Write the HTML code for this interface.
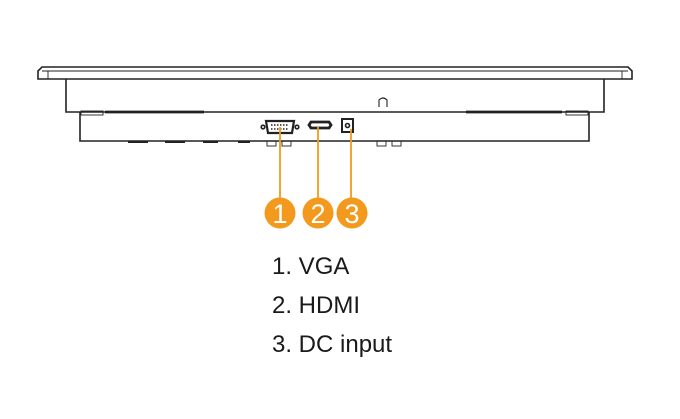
<!DOCTYPE html>
<html><head><style>
body{margin:0;background:#fff;width:680px;height:414px;overflow:hidden}
</style></head><body>
<svg width="680" height="414" viewBox="0 0 680 414" xmlns="http://www.w3.org/2000/svg">
<g fill="none" stroke="#222" stroke-width="1.6">
<path d="M38 79 L38 71 L42 67 L628 67 L632 71 L632 79 Z"/>
<line x1="42" y1="71" x2="628" y2="71" stroke-width="0.9"/>
<line x1="48" y1="71" x2="48" y2="79" stroke-width="0.9"/>
<line x1="622" y1="71" x2="622" y2="79" stroke-width="0.9"/>
<path d="M66 79 L66 112 L604 112 L604 79"/>
<path d="M80 112 L80 141 L589 141 L589 112"/>
<rect x="81" y="111" width="22" height="4" stroke-width="0.9"/>
<rect x="566" y="111" width="22" height="4" stroke-width="0.9"/>
<line x1="105" y1="112" x2="204" y2="112" stroke-width="2.8"/>
<line x1="466" y1="112" x2="562" y2="112" stroke-width="2.8"/>
<path d="M379 107 L379 100 Q383 96 387 100 L387 107" stroke-width="1.1"/>
<path d="M266 121 L294 121 L292 133 L268 133 Z" stroke-width="2.2"/>
<circle cx="263" cy="127" r="1.8"/><circle cx="297" cy="127" r="1.8"/>
<line x1="271" y1="125" x2="289" y2="125" stroke-dasharray="1.5 1.5"/>
<line x1="271" y1="129" x2="289" y2="129" stroke-dasharray="1.5 1.5"/>
<path d="M311 122 L329 122 L331 125 L329 128 L311 128 L309 125 Z" stroke-width="2.8"/>
<rect x="342" y="119" width="11" height="13" stroke-width="2"/>
<circle cx="347.5" cy="125.5" r="2"/>
<rect x="267" y="141" width="9" height="5" stroke-width="0.9"/>
<rect x="282" y="141" width="9" height="5" stroke-width="0.9"/>
<rect x="377" y="141" width="9" height="5" stroke-width="0.9"/>
<rect x="392" y="141" width="9" height="5" stroke-width="0.9"/>
</g>
<g stroke="#222" stroke-width="2">
<line x1="128" y1="142" x2="148" y2="142"/><line x1="165" y1="142" x2="185" y2="142"/>
<line x1="203" y1="142" x2="218" y2="142"/><line x1="238" y1="142" x2="250" y2="142"/>
</g>
<g stroke="#F39A1E" stroke-width="1.8">
<line x1="280" y1="127" x2="280" y2="200"/>
<line x1="318" y1="127" x2="318" y2="200"/>
<line x1="351" y1="129" x2="351" y2="200"/>
</g>
<g fill="#F39A1E">
<circle cx="280" cy="213" r="15.5"/><circle cx="318" cy="213" r="15.5"/><circle cx="352" cy="213" r="15.5"/>
</g>
<g fill="#fff" font-family="Liberation Sans, sans-serif" font-size="27" text-anchor="middle">
<text x="280" y="223">1</text><text x="318" y="223">2</text><text x="352" y="223">3</text>
</g>
<g fill="#1a1a1a" font-family="Liberation Sans, sans-serif" font-size="24">
<text x="272" y="274">1. VGA</text>
<text x="272" y="313">2. HDMI</text>
<text x="272" y="352">3. DC input</text>
</g>
</svg>
</body></html>
